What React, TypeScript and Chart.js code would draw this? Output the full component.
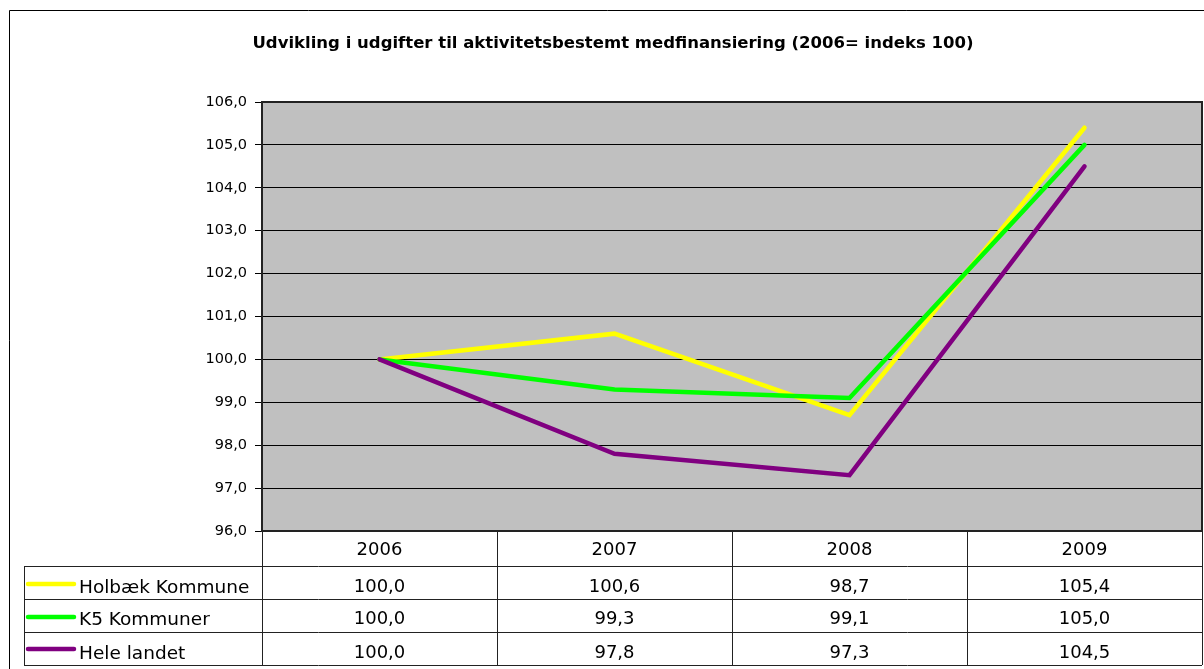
import React, { useEffect, useRef } from "react";
import { Chart, registerables } from "chart.js";

Chart.register(...registerables);

const TITLE = "Udvikling i udgifter til aktivitetsbestemt medfinansiering (2006= indeks 100)";
const CATEGORIES = ["2006", "2007", "2008", "2009"];
const SERIES_NAMES = ["Holbæk Kommune", "K5 Kommuner", "Hele landet"];
const HOLBAEK = [100.0, 100.6, 98.7, 105.4];
const K5 = [100.0, 99.3, 99.1, 105.0];
const HELE_LANDET = [100.0, 97.8, 97.3, 104.5];
const SERIES_COLORS = ["#FFFF00", "#00FF00", "#800080"];
const Y_MIN = 96;
const Y_MAX = 106;
const Y_STEP = 1;

const FONT = '"DejaVu Sans", "Liberation Sans", sans-serif';
const fmt = (v: number) => v.toFixed(1).replace(".", ",");

const framePlugin = {
  id: "frameAndTable",
  beforeDraw(chart: any) {
    const { ctx, chartArea } = chart;
    ctx.save();
    ctx.fillStyle = "#FFFFFF";
    ctx.fillRect(0, 0, chart.width, chart.height);
    ctx.fillStyle = "#C0C0C0";
    ctx.fillRect(chartArea.left, chartArea.top, chartArea.right - chartArea.left, chartArea.bottom - chartArea.top);
    // outer chart border
    ctx.strokeStyle = "#000";
    ctx.lineWidth = 1;
    ctx.beginPath();
    ctx.moveTo(9.5, chart.height + 2);
    ctx.lineTo(9.5, 10.5);
    ctx.lineTo(chart.width + 2, 10.5);
    ctx.stroke();
    // title
    ctx.fillStyle = "#000";
    ctx.font = `bold 16.5px ${FONT}`;
    ctx.textAlign = "center";
    ctx.textBaseline = "alphabetic";
    ctx.fillText(TITLE, 613, 48);
    ctx.restore();
  },
  afterDraw(chart: any) {
    const { ctx, chartArea } = chart;
    const xScale = chart.scales.x;
    const n = CATEGORIES.length;
    const colW = (chartArea.right - chartArea.left) / n;
    const headerBottom = 566;
    const rowH = 33;
    const tableLeft = 24;
    const tableBottom = headerBottom + rowH * SERIES_NAMES.length;
    ctx.save();
    // plot frame
    ctx.strokeStyle = "#222";
    ctx.lineWidth = 2;
    ctx.strokeRect(chartArea.left, chartArea.top, chartArea.right - chartArea.left, chartArea.bottom - chartArea.top);
    // table grid
    ctx.strokeStyle = "#222";
    ctx.lineWidth = 1;
    ctx.beginPath();
    for (let k = 0; k <= n; k++) {
      const x = Math.round(chartArea.left + k * colW) + 0.5;
      ctx.moveTo(x, chartArea.bottom);
      ctx.lineTo(x, tableBottom);
    }
    for (let r = 0; r <= SERIES_NAMES.length; r++) {
      const y = headerBottom + r * rowH + 0.5;
      ctx.moveTo(tableLeft, y);
      ctx.lineTo(chartArea.right, y);
    }
    ctx.moveTo(tableLeft + 0.5, headerBottom);
    ctx.lineTo(tableLeft + 0.5, tableBottom);
    ctx.stroke();

    ctx.fillStyle = "#000";
    ctx.font = `18px ${FONT}`;
    ctx.textBaseline = "alphabetic";
    ctx.textAlign = "center";
    CATEGORIES.forEach((c, i) => {
      ctx.fillText(c, xScale.getPixelForValue(i), 555);
    });
    const baselines = [592, 624, 658];
    const lineYs = [584, 617, 649];
    chart.data.datasets.forEach((ds: any, r: number) => {
      ctx.textAlign = "center";
      ctx.fillStyle = "#000";
      ctx.font = `18px ${FONT}`;
      ds.data.forEach((v: number, i: number) => {
        ctx.fillText(fmt(v), xScale.getPixelForValue(i), baselines[r]);
      });
      // legend key
      ctx.strokeStyle = ds.borderColor;
      ctx.lineWidth = 4.5;
      ctx.lineCap = "round";
      ctx.beginPath();
      ctx.moveTo(28, lineYs[r]);
      ctx.lineTo(74, lineYs[r]);
      ctx.stroke();
      ctx.textAlign = "left";
      ctx.font = `18.5px ${FONT}`;
      ctx.fillText(ds.label, 79, baselines[r] + 1);
    });
    ctx.restore();
  },
};

export default function App() {
  const ref = useRef<HTMLCanvasElement>(null);
  useEffect(() => {
    const seriesData = [HOLBAEK, K5, HELE_LANDET];
    const chart = new Chart(ref.current as HTMLCanvasElement, {
      type: "line",
      data: {
        labels: CATEGORIES,
        datasets: seriesData.map((d, i) => ({
          label: SERIES_NAMES[i],
          data: d,
          borderColor: SERIES_COLORS[i],
          backgroundColor: SERIES_COLORS[i],
          borderWidth: 4.5,
          pointRadius: 0,
          tension: 0,
          fill: false,
          borderCapStyle: "round",
          borderJoinStyle: "miter",
          order: seriesData.length - i,
        })),
      },
      options: {
        responsive: false,
        devicePixelRatio: 1,
        animation: false,
        layout: { padding: { left: 0, right: 2, top: 102, bottom: 138 } },
        plugins: {
          legend: { display: false },
          title: { display: false },
          tooltip: { enabled: false },
        },
        scales: {
          x: {
            type: "category",
            display: false,
            offset: true,
          },
          y: {
            min: Y_MIN,
            max: Y_MAX,
            afterFit: (scale: any) => {
              scale.width = 262;
            },
            ticks: {
              stepSize: Y_STEP,
              color: "#000",
              padding: 8,
              font: { family: FONT, size: 14.5 },
              callback: (v: any) => fmt(Number(v)),
            },
            grid: {
              color: "#000",
              lineWidth: 1,
              tickLength: 7,
              drawTicks: true,
            },
            border: { display: false },
          },
        },
      },
      plugins: [framePlugin],
    } as any);
    return () => chart.destroy();
  }, []);
  return (
    <div style={{ position: "absolute", left: 0, top: 0, width: 1204, height: 669 }}>
      <canvas ref={ref} width={1204} height={669} style={{ display: "block" }} />
    </div>
  );
}
